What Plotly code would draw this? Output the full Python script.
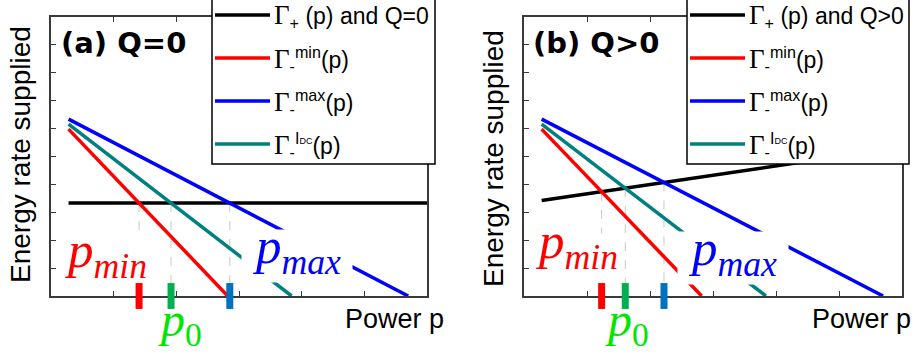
import plotly.graph_objects as go

# ---------------- data ----------------
# straight lines given by their two end points (power p, energy rate)
P_MIN_LINE = [0.28, 2.82]
GAMMA_MIN = [5.98, 0.0]
P_DC_LINE = [0.28, 3.84]
GAMMA_DC = [6.16, 0.0]
P_MAX_LINE = [0.28, 5.70]
GAMMA_MAX = [6.34, 0.0]
P_SUPPLY = [0.28, 6.0]
GAMMA_PLUS_Q0 = [3.33, 3.33]     # panel (a): Q = 0
GAMMA_PLUS_QPOS = [3.42, 5.33]   # panel (b): Q > 0

P_RANGE = [0, 6]
E_RANGE = [0, 10]

PANEL_TITLES = ["(a) Q=0", "(b) Q>0"]
SUPPLY_LABELS = ["(p) and Q=0", "(p) and Q>0"]

W, H = 914, 356
SERIF = "Liberation Serif"
SANS = "Liberation Sans"

RED, BLUE, TEAL, BLACK = "#ff0000", "#0000ff", "#008080", "#000000"
TICK_RED, TICK_GREEN, TICK_BLUE = "#ff0000", "#00b050", "#0070c0"
LABEL_GREEN = "#00e600"


def px_x(px):
    return px / W


def px_y(py):
    return 1 - py / H


def intersect(xa, ya, xb, yb):
    sa = (ya[1] - ya[0]) / (xa[1] - xa[0])
    sb = (yb[1] - yb[0]) / (xb[1] - xb[0])
    ia = ya[0] - sa * xa[0]
    ib = yb[0] - sb * xb[0]
    x = (ib - ia) / (sa - sb)
    return x, ia + sa * x


fig = go.Figure()

x_domains = [[px_x(51), px_x(427)], [px_x(524), px_x(902)]]
y_domain = [px_y(296), px_y(17)]
supplies = [GAMMA_PLUS_Q0, GAMMA_PLUS_QPOS]
pmin_guide_end = [2.15, 2.25]   # where the p_min label hides the guide line

for k in range(2):
    xr = "x" if k == 0 else "x2"
    yr = "y" if k == 0 else "y2"
    sup = supplies[k]

    cross = [
        (intersect(P_MIN_LINE, GAMMA_MIN, P_SUPPLY, sup), TICK_RED),
        (intersect(P_DC_LINE, GAMMA_DC, P_SUPPLY, sup), TICK_GREEN),
        (intersect(P_MAX_LINE, GAMMA_MAX, P_SUPPLY, sup), TICK_BLUE),
    ]
    # dashed guide lines
    for j, ((px, py), _c) in enumerate(cross):
        y_end = pmin_guide_end[k] if j == 0 else 0.45
        fig.add_trace(go.Scatter(x=[px, px], y=[py, y_end], mode="lines",
                                 line=dict(color="#c8c8c8", width=1, dash="dash"),
                                 showlegend=False, hoverinfo="skip",
                                 xaxis=xr, yaxis=yr))

    curves = [
        (P_SUPPLY, sup, BLACK, "Γ+ " + SUPPLY_LABELS[k]),
        (P_MIN_LINE, GAMMA_MIN, RED, "Γ-min(p)"),
        (P_MAX_LINE, GAMMA_MAX, BLUE, "Γ-max(p)"),
        (P_DC_LINE, GAMMA_DC, TEAL, "Γ-IDC(p)"),
    ]
    for xs, ys, col, name in curves:
        fig.add_trace(go.Scatter(x=xs, y=ys, mode="lines", name=name,
                                 line=dict(color=col, width=3.5),
                                 showlegend=False, xaxis=xr, yaxis=yr))

    # coloured bars on the power axis
    for (px, py), c in cross:
        fig.add_trace(go.Scatter(x=[px], y=[0], mode="markers",
                                 marker=dict(symbol="line-ns", size=18.5,
                                             line=dict(color=c, width=7)),
                                 cliponaxis=False, showlegend=False,
                                 hoverinfo="skip", xaxis=xr, yaxis=yr))

axis_common = dict(showline=True, linecolor="#3a3a3a", linewidth=1.6,
                   ticks="inside", ticklen=5, tickcolor="#3a3a3a", tickwidth=1.2,
                   showticklabels=False, showgrid=False, zeroline=False,
                   layer="below traces", fixedrange=True)

fig.update_layout(
    width=W, height=H, autosize=False,
    margin=dict(l=0, r=0, t=0, b=0),
    paper_bgcolor="white", plot_bgcolor="white",
    xaxis=dict(domain=x_domains[0], range=P_RANGE, dtick=1, anchor="y", mirror="ticks", **axis_common),
    yaxis=dict(domain=y_domain, range=E_RANGE, dtick=1, anchor="x", mirror=True, **axis_common),
    xaxis2=dict(domain=x_domains[1], range=P_RANGE, dtick=1, anchor="y2", mirror="ticks", **axis_common),
    yaxis2=dict(domain=y_domain, range=E_RANGE, dtick=1, anchor="x2", mirror=True, **axis_common),
    showlegend=False,
)

ann = []
shapes = []

# ---------- legend boxes (drawn by hand, like the original figure) ----------
legend_boxes = [(212, 435), (687, 909)]
row_y = [15, 58, 101, 144]
row_colors = [BLACK, RED, BLUE, TEAL]
GAM = '<span style="font-family:Liberation Serif;font-size:27px">Γ</span>'
for k, (lx0, lx1) in enumerate(legend_boxes):
    shapes.append(dict(type="rect", xref="paper", yref="paper", layer="above",
                       x0=px_x(lx0), x1=px_x(lx1), y0=px_y(-1), y1=px_y(164),
                       fillcolor="white", line=dict(color="black", width=1.5)))
    texts = [
        GAM + "<sub>+</sub> " + SUPPLY_LABELS[k],
        GAM + "<sub>-</sub><sup>min</sup>(p)",
        GAM + "<sub>-</sub><sup>max</sup>(p)",
        GAM + '<sub>-</sub><sup>I<span style="font-size:9px">DC</span></sup>(p)',
    ]
    for r in range(4):
        shapes.append(dict(type="line", xref="paper", yref="paper", layer="above",
                           x0=px_x(lx0 + 3), x1=px_x(lx0 + 58),
                           y0=px_y(row_y[r]), y1=px_y(row_y[r]),
                           line=dict(color=row_colors[r], width=3.5)))
        ann.append(dict(text=texts[r], x=px_x(lx0 + 60), y=px_y(row_y[r] + 1),
                        xref="paper", yref="paper", xanchor="left", yanchor="middle",
                        showarrow=False, font=dict(family=SANS, size=23, color="black")))

# panel titles
for k, x0 in enumerate([59, 531]):
    ann.append(dict(text=f"<b>{PANEL_TITLES[k]}</b>", x=px_x(x0), y=px_y(43),
                    xref="paper", yref="paper", xanchor="left", yanchor="middle",
                    showarrow=False, font=dict(family="DejaVu Sans", size=29, color="black")))
# axis titles
for xc, yc in [(20, 155), (494, 159)]:
    ann.append(dict(text="Energy rate supplied", x=px_x(xc), y=px_y(yc),
                    xref="paper", yref="paper", textangle=-90, showarrow=False,
                    xanchor="center", yanchor="middle",
                    font=dict(family=SANS, size=28, color="black")))
for xr_ in [446, 913]:
    ann.append(dict(text="Power p", x=px_x(xr_), y=px_y(319), xref="paper", yref="paper",
                    xanchor="right", yanchor="middle", showarrow=False,
                    font=dict(family=SANS, size=27, color="black")))


# math labels
def mlabel(sub, x, y, xref, yref, color, size=51, sub_italic=True):
    s = f"<i>{sub}</i>" if sub_italic else sub
    return dict(text=f"<i>p</i><sub>{s}</sub>", x=x, y=y, xref=xref, yref=yref,
                showarrow=False, xanchor="center", yanchor="middle",
                font=dict(family=SERIF, size=size, color=color))


def mlabel_boxed(sub, x, y, xref, yref, color):
    d = mlabel(sub, x, y, xref, yref, color)
    d.update(bgcolor="white", borderpad=0, width=110, height=52, valign="bottom")
    return d


ann.append(mlabel("min", 0.88, 1.5, "x", "y", RED))
ann.append(mlabel_boxed("max", 3.93, 1.45, "x", "y", BLUE))
ann.append(mlabel("0", 2.06, px_y(323), "x", "paper", LABEL_GREEN, 48, False))
ann.append(mlabel("min", 0.84, 1.83, "x2", "y2", RED))
ann.append(mlabel_boxed("max", 3.32, 1.38, "x2", "y2", BLUE))
ann.append(mlabel("0", 1.63, px_y(323), "x2", "paper", LABEL_GREEN, 48, False))

fig.update_layout(annotations=ann, shapes=shapes)

fig.write_html("out.html",
               config={"displayModeBar": False},
               post_script="document.body.style.margin='0px';"
                           "document.body.style.padding='0px';"
                           "document.body.style.overflow='hidden';")
